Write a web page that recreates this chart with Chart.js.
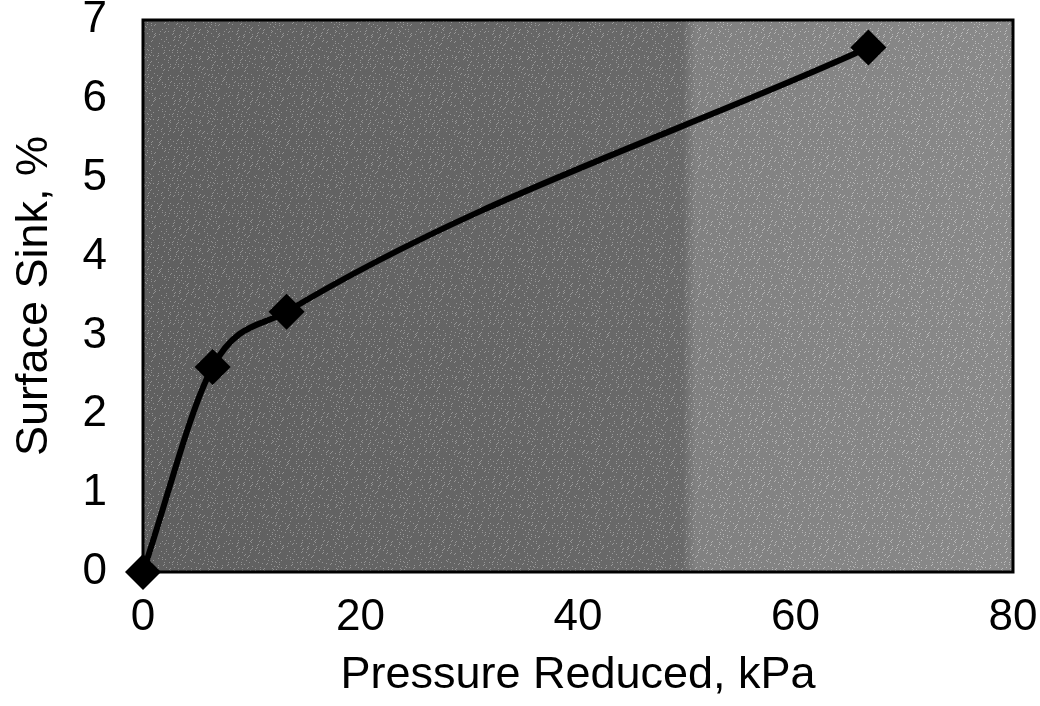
<!DOCTYPE html>
<html>
<head>
<meta charset="utf-8">
<script src="https://cdn.jsdelivr.net/npm/chart.js@4/dist/chart.umd.min.js"></script>
<style>
  html, body { margin: 0; padding: 0; background: #fff; }
  #wrap { width: 1040px; height: 706px; }
</style>
</head>
<body>
<div id="wrap"><canvas id="sinkChart" width="1040" height="706"></canvas></div>
<script>
var pressure = [0, 6.4, 13.2, 66.7];
var sink = [0, 2.6, 3.3, 6.65];
var xTicks = [0, 20, 40, 60, 80];
var yTicks = [0, 1, 2, 3, 4, 5, 6, 7];

var points = pressure.map(function (p, i) { return { x: p, y: sink[i] }; });

// small speckle tile so the grey looks like the scanned halftone
function speckleTile() {
    var t = document.createElement('canvas');
    t.width = 64; t.height = 64;
    var tc = t.getContext('2d');
    var img = tc.createImageData(64, 64);
    for (var i = 0; i < 64 * 64; i++) {
        var h = (i * 2654435761) >>> 0;
        h = ((h ^ (h >>> 13)) * 1274126177) >>> 0;
        var v = (h & 255) > 128 ? 255 : 0;
        img.data[i * 4] = v; img.data[i * 4 + 1] = v; img.data[i * 4 + 2] = v;
        img.data[i * 4 + 3] = 50;
    }
    tc.putImageData(img, 0, 0);
    return t;
}

var plotBox = {
    id: 'plotBox',
    beforeDatasetsDraw: function (chart) {
        var a = chart.chartArea, c = chart.ctx;
        var w = a.right - a.left, h = a.bottom - a.top;
        c.save();
        var g = c.createLinearGradient(a.left, 0, a.right, 0);
        g.addColorStop(0, '#767676');
        g.addColorStop(0.62, '#838383');
        g.addColorStop(0.635, '#a0a0a0');
        g.addColorStop(1, '#ababab');
        c.fillStyle = g;
        c.fillRect(a.left, a.top, w, h);
        c.fillStyle = c.createPattern(speckleTile(), 'repeat');
        c.fillRect(a.left, a.top, w, h);
        c.strokeStyle = '#000';
        c.lineWidth = 3;
        c.strokeRect(a.left, a.top, w, h);
        c.restore();
    }
};

var ctx = document.getElementById('sinkChart').getContext('2d');
var chart = new Chart(ctx, {
    type: 'scatter',
    data: {
        datasets: [{
            data: points,
            showLine: true,
            borderColor: '#000',
            backgroundColor: '#000',
            borderWidth: 6,
            tension: 0.4,
            cubicInterpolationMode: 'monotone',
            pointStyle: 'rectRot',
            pointRadius: 18,
            pointHoverRadius: 18,
            pointBorderWidth: 0,
            clip: false
        }]
    },
    options: {
        responsive: false,
        animation: false,
        layout: { padding: { top: 20, right: 27, left: 0, bottom: 0 } },
        plugins: { legend: { display: false }, tooltip: { enabled: false } },
        scales: {
            x: {
                type: 'linear',
                min: 0, max: 80,
                afterBuildTicks: function (s) { s.ticks = xTicks.map(function (v) { return { value: v }; }); },
                afterFit: function (s) { s.height = 134; s.paddingLeft = 0; s.paddingRight = 0; },
                grid: { display: false, drawTicks: false },
                border: { display: false },
                ticks: { color: '#000', padding: 24, font: { family: 'Liberation Sans', size: 44, lineHeight: 1 } },
                title: { display: true, text: 'Pressure Reduced, kPa', color: '#000', padding: { top: 0, bottom: 8 },
                         font: { family: 'Liberation Sans', size: 45, lineHeight: 1 } }
            },
            y: {
                type: 'linear',
                min: 0, max: 7,
                afterBuildTicks: function (s) { s.ticks = yTicks.map(function (v) { return { value: v }; }); },
                afterFit: function (s) { s.width = 143; s.paddingTop = 0; s.paddingBottom = 0; },
                grid: { display: false, drawTicks: false },
                border: { display: false },
                ticks: { color: '#000', padding: 36, font: { family: 'Liberation Sans', size: 44, lineHeight: 1 } },
                title: { display: true, text: 'Surface Sink, %', color: '#000', padding: { top: 12, bottom: 0 },
                         font: { family: 'Liberation Sans', size: 45, lineHeight: 1 } }
            }
        }
    },
    plugins: [plotBox]
});
</script>
</body>
</html>
